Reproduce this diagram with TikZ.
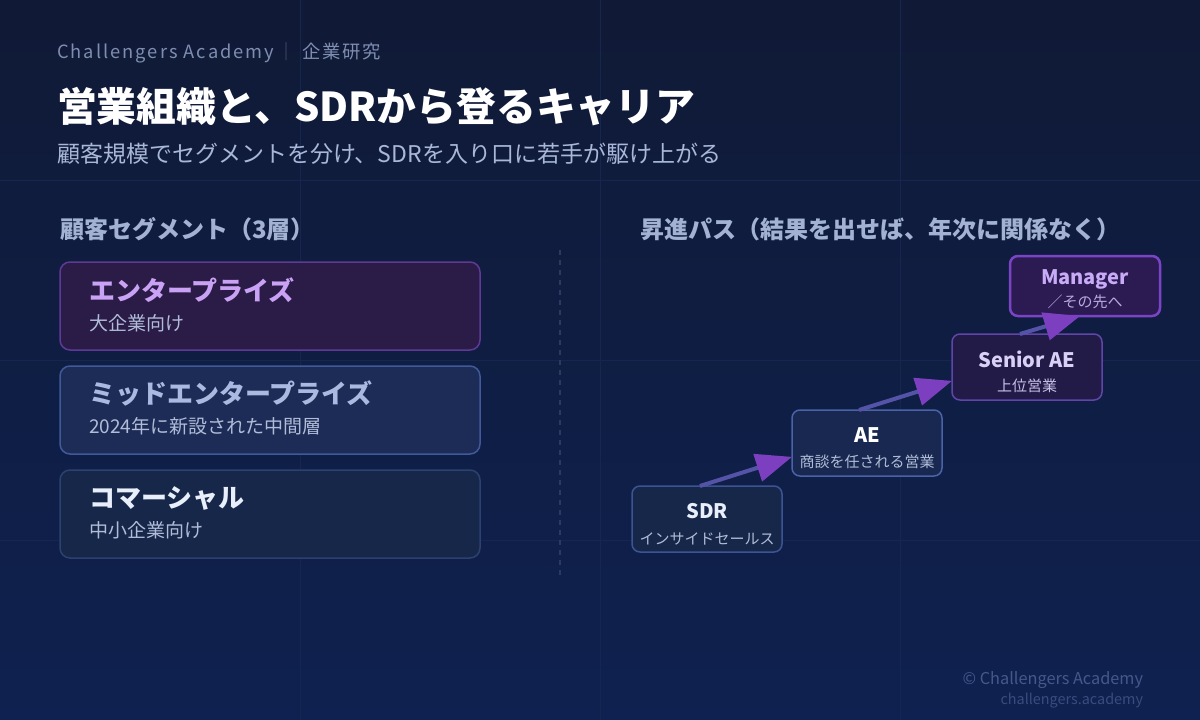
\documentclass[tikz,border=0pt]{standalone}
\usepackage{fontspec}
\setmainfont{Noto Sans CJK JP}
\newfontfamily\lsfont[LetterSpace=11]{Noto Sans CJK JP}
\usetikzlibrary{arrows.meta,calc}
\newcommand\fsz[1]{\fontsize{#1}{#1}\selectfont}
\definecolor{bgtop}{HTML}{101A36}
\definecolor{bgbot}{HTML}{0F2150}
\definecolor{gridc}{HTML}{172650}
\definecolor{hdr}{HTML}{7F8DB0}
\definecolor{hdrdim}{HTML}{4A5678}
\definecolor{subc}{HTML}{A9B8D8}
\definecolor{secc}{HTML}{A3B2D2}
\definecolor{entfill}{HTML}{2A1B47}
\definecolor{entdraw}{HTML}{5E3A96}
\definecolor{entT}{HTML}{CAA2F5}
\definecolor{midfill}{HTML}{1D2B57}
\definecolor{middraw}{HTML}{41599A}
\definecolor{midT}{HTML}{A9B9E0}
\definecolor{comfill}{HTML}{172749}
\definecolor{comdraw}{HTML}{2C4170}
\definecolor{comT}{HTML}{E8EEFA}
\definecolor{boxsub}{HTML}{B0BCD8}
\definecolor{sdrfill}{HTML}{172749}
\definecolor{sdrdraw}{HTML}{3C5494}
\definecolor{aefill}{HTML}{182850}
\definecolor{aedraw}{HTML}{4A62A8}
\definecolor{senfill}{HTML}{221B47}
\definecolor{sendraw}{HTML}{6046A8}
\definecolor{senT}{HTML}{D9D0F5}
\definecolor{sensub}{HTML}{C8C0E8}
\definecolor{mgrfill}{HTML}{2B1B52}
\definecolor{mgrdraw}{HTML}{7A44C6}
\definecolor{mgrT}{HTML}{C9AAF7}
\definecolor{mgrsub}{HTML}{B8A8E0}
\definecolor{shaftc}{HTML}{5553A8}
\definecolor{arrowc}{HTML}{7B3FC0}
\definecolor{dashc}{HTML}{2B3A62}
\definecolor{foot1}{HTML}{46578A}
\definecolor{foot2}{HTML}{3A4B7E}
\begin{document}
\begin{tikzpicture}[x=1pt,y=-1pt,
  txt/.style={inner sep=0pt,outer sep=0pt},
  seg/.style={draw,rounded corners=10pt,line width=1.5pt,minimum width=420pt,minimum height=88pt,anchor=north west,inner sep=0pt,outer sep=0pt},
  lvl/.style={draw,rounded corners=8pt,line width=1.5pt,minimum width=150pt,minimum height=66pt,anchor=north west,inner sep=0pt,outer sep=0pt},
  segT/.style={txt,anchor=base west,font=\fsz{26}\bfseries},
  segS/.style={txt,anchor=base west,font=\fsz{19},text=boxsub},
  lvlT/.style={txt,anchor=base,font=\fsz{20}\bfseries},
  lvlS/.style={txt,anchor=base,font=\fsz{15},text=boxsub},
  conn/.style={line width=4pt,draw=shaftc,-{Triangle[length=36pt,width=28pt,color=arrowc]}}
]
\useasboundingbox (0,0) rectangle (1200,720);
\shade[top color=bgtop,bottom color=bgbot] (0,0) rectangle (1200,720);
% faint grid
\foreach \gx in {300,600,900} \draw[gridc,line width=1pt] (\gx,0) -- (\gx,720);
\foreach \gy in {180,360,540} \draw[gridc,line width=1pt] (0,\gy) -- (1200,\gy);

% header
\node[txt,anchor=base west,text=hdr,font=\lsfont\fsz{18.3}] (brand) at (57,58) {Challengers Academy};
\node[txt,anchor=base west,text=hdrdim,font=\fsz{18}] (bar) at (277,58) {｜};
\node[txt,anchor=base west,text=hdr,font=\lsfont\fsz{18.3}] (kind) at (302,58) {企業研究};
\node[txt,anchor=base west,text=white,font=\fsz{39.8}\bfseries] (title) at (57,121) {営業組織と、SDRから登るキャリア};
\node[txt,anchor=base west,text=subc,font=\fsz{23}] (subtitle) at (57,162) {顧客規模でセグメントを分け、SDRを入り口に若手が駆け上がる};

% section headers
\node[txt,anchor=base west,text=secc,font=\fsz{24}\bfseries] (segH) at (60,238) {顧客セグメント（3層）};
\node[txt,anchor=base west,text=secc,font=\fsz{24}\bfseries] (pathH) at (640,238) {昇進パス（結果を出せば、年次に関係なく）};

% divider
\draw[dashc,line width=1.5pt,dash pattern=on 5pt off 5pt] (560,250) -- (560,580);

% segments
\node[seg,fill=entfill,draw=entdraw] (ent) at (60,262) {};
\node[segT,text=entT] (entTt) at (89,300) {エンタープライズ};
\node[segS] (entS) at (89,330) {大企業向け};

\node[seg,fill=midfill,draw=middraw] (mid) at (60,366) {};
\node[segT,text=midT] (midTt) at (89,403) {ミッドエンタープライズ};
\node[segS] (midS) at (89,433) {2024年に新設された中間層};

\node[seg,fill=comfill,draw=comdraw] (com) at (60,470) {};
\node[segT,text=comT] (comTt) at (89,507) {コマーシャル};
\node[segS] (comS) at (89,537) {中小企業向け};

% career ladder
\node[lvl,fill=sdrfill,draw=sdrdraw] (sdr) at (632,486) {};
\node[lvlT,text=comT] (sdrT) at (707,518) {SDR};
\node[lvlS] (sdrS) at (707,544) {インサイドセールス};

\node[lvl,fill=aefill,draw=aedraw] (ae) at (792,410) {};
\node[lvlT,text=white] (aeT) at (867,442) {AE};
\node[lvlS] (aeS) at (867,467) {商談を任される営業};

\node[lvl,fill=senfill,draw=sendraw] (sen) at (952,334) {};
\node[lvlT,text=senT] (senT) at (1027,367) {Senior AE};
\node[lvlS,text=sensub] (senS) at (1027,391) {上位営業};

\node[lvl,fill=mgrfill,draw=mgrdraw,line width=2.5pt,minimum height=60pt] (mgr) at (1010,256) {};
\node[lvlT,text=mgrT] (mgrT) at (1085,284) {Manager};
\node[lvlS,text=mgrsub] (mgrS) at (1085,307) {／その先へ};

\draw[conn] ($(sdr.north west)!0.453!(sdr.north east)$) -- ($(ae.north west)!0.71!(ae.south west)$);
\draw[conn] ($(ae.north west)!0.447!(ae.north east)$) -- ($(sen.north west)!0.71!(sen.south west)$);
\draw[conn] ($(sen.north west)!0.453!(sen.north east)$) -- ($(mgr.south west)!0.467!(mgr.south east)$);

% footer
\node[txt,anchor=base east,text=foot1,font=\fsz{16.3}] (copy) at (1143,684) {© Challengers Academy};
\node[txt,anchor=base east,text=foot2,font=\fsz{14.4}] (url) at (1143,704) {challengers.academy};
\end{tikzpicture}
\end{document}
